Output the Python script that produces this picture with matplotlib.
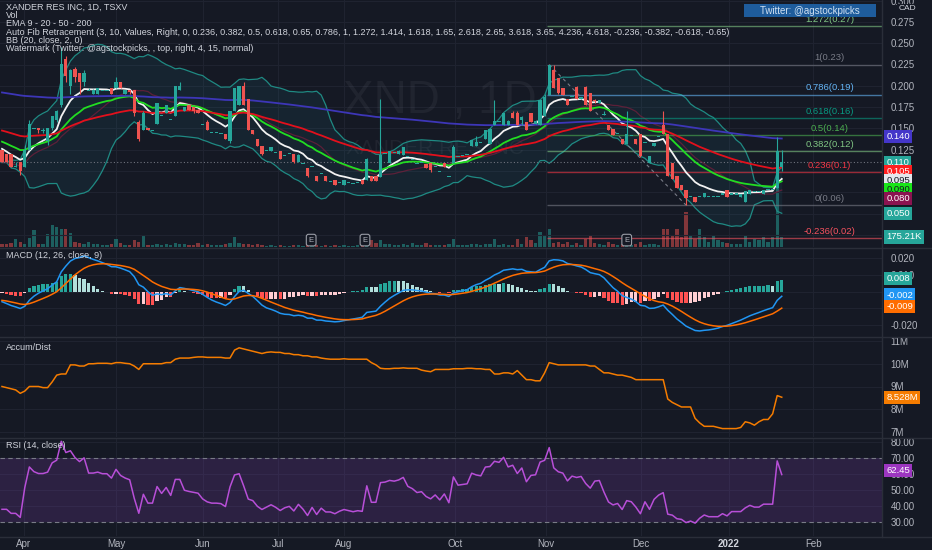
import numpy as np
import matplotlib
matplotlib.use("Agg")
import matplotlib.pyplot as plt
from matplotlib.patches import Rectangle

plt.rcParams['font.family'] = ['Liberation Sans', 'DejaVu Sans']

# ------------------------------------------------------------------ data
opens = [
    .125, .120, .120, .105, .110, .105, .125, .150, .150, .148,
    .135, .150, .160, .178, .232, .200, .220, .215, .205, .195,
    .190, .190, .195, .195, .198, .198, .205, .190, .195, .195,
    .158, .148, .150, .148, .155, .165, .168, .160, .165, .195,
    .170, .177, .175, .172, .155, .158, .145, .145, .144, .144,
    .135, .170, .178, .200, .185, .148, .138, .129, .124, .124,
    .122, .123, .118, .120, .120, .110, .109, .103, .105, .094,
    .097, .094, .088, .089, .087, .084, .087, .085, .086, .090,
    .090, .094, .094, .093, .120, .109, .122, .120, .119, .117,
    .114, .109, .110, .108, .109, .105, .099, .109, .094, .109,
    .117, .118, .119, .129, .129, .133, .138, .132, .154, .158,
    .154, .154, .168, .168, .160, .157, .168, .155, .154, .164,
    .189, .219, .209, .197, .185, .187, .199, .185, .199, .191,
    .183, .180, .166, .154, .149, .144, .138, .132, .142, .138,
    .144, .134, .109, .129, .140, .154, .144, .109, .094, .084,
    .078, .070, .069, .070, .070, .070, .070, .070, .073, .078,
    .073, .073, .069, .064, .073, .076, .076, .073, .078, .078,
    .080, .105]
highs = [
    .125, .120, .120, .110, .110, .130, .160, .150, .150, .150,
    .150, .165, .172, .245, .235, .220, .222, .215, .218, .197,
    .196, .198, .195, .195, .198, .210, .205, .195, .195, .195,
    .160, .170, .150, .148, .180, .165, .178, .160, .200, .205,
    .175, .177, .175, .173, .155, .160, .145, .145, .144, .144,
    .170, .197, .200, .205, .185, .148, .138, .129, .124, .128,
    .122, .123, .118, .120, .120, .120, .109, .103, .105, .094,
    .097, .094, .088, .089, .087, .090, .087, .085, .086, .090,
    .115, .094, .094, .185, .120, .123, .122, .125, .128, .117,
    .114, .109, .110, .108, .109, .105, .099, .109, .094, .130,
    .117, .118, .119, .136, .141, .133, .148, .150, .183, .158,
    .168, .160, .170, .170, .164, .157, .168, .160, .183, .190,
    .225, .225, .209, .197, .185, .187, .200, .187, .200, .191,
    .185, .183, .170, .154, .149, .144, .138, .170, .142, .138,
    .144, .134, .118, .133, .140, .170, .144, .109, .094, .084,
    .078, .070, .069, .070, .074, .070, .070, .070, .073, .078,
    .073, .073, .073, .076, .078, .076, .076, .078, .078, .078,
    .140, .125]
lows = [
    .110, .110, .105, .105, .095, .105, .125, .150, .145, .145,
    .130, .148, .158, .175, .205, .190, .205, .190, .200, .195,
    .190, .190, .195, .195, .190, .198, .198, .190, .190, .165,
    .135, .148, .148, .148, .155, .165, .168, .160, .165, .195,
    .170, .172, .168, .168, .155, .148, .145, .145, .144, .138,
    .133, .170, .177, .177, .148, .144, .129, .119, .124, .124,
    .122, .114, .118, .120, .109, .110, .109, .093, .105, .088,
    .097, .088, .088, .084, .087, .084, .087, .085, .086, .085,
    .090, .088, .088, .093, .120, .109, .122, .120, .119, .117,
    .114, .109, .110, .104, .099, .105, .099, .105, .094, .109,
    .117, .118, .119, .129, .129, .133, .138, .132, .154, .158,
    .154, .154, .162, .154, .154, .148, .158, .155, .154, .164,
    .189, .197, .190, .189, .177, .187, .185, .185, .177, .170,
    .180, .180, .166, .148, .142, .144, .132, .132, .142, .132,
    .117, .134, .109, .129, .140, .144, .094, .091, .080, .078,
    .060, .070, .064, .070, .070, .070, .070, .070, .073, .069,
    .073, .073, .069, .064, .073, .076, .076, .073, .078, .078,
    .080, .100]
closes = [
    .110, .110, .105, .105, .100, .125, .155, .150, .148, .148,
    .150, .165, .170, .225, .212, .218, .210, .205, .215, .195,
    .195, .197, .195, .195, .190, .205, .198, .195, .193, .168,
    .138, .168, .148, .148, .180, .165, .178, .160, .200, .200,
    .175, .172, .170, .168, .155, .148, .145, .145, .144, .138,
    .170, .197, .200, .178, .148, .144, .129, .120, .124, .128,
    .122, .114, .118, .120, .110, .119, .109, .094, .105, .088,
    .097, .088, .088, .084, .087, .089, .087, .085, .086, .085,
    .114, .088, .088, .119, .120, .123, .122, .124, .128, .117,
    .114, .109, .110, .104, .101, .105, .099, .105, .094, .128,
    .117, .118, .119, .136, .134, .133, .148, .149, .159, .158,
    .168, .159, .162, .154, .163, .148, .158, .159, .183, .187,
    .224, .197, .191, .189, .177, .187, .185, .187, .177, .170,
    .182, .183, .166, .148, .142, .144, .132, .144, .142, .132,
    .118, .134, .118, .133, .140, .144, .094, .091, .080, .078,
    .068, .070, .064, .070, .074, .070, .070, .070, .073, .069,
    .073, .073, .073, .076, .078, .076, .076, .078, .078, .078,
    .123, .110]
volume_k = [
    52, 52, 70, 140, 88, 52, 158, 298, 52, 52,
    228, 385, 350, 315, 315, 245, 88, 70, 52, 88,
    52, 52, 35, 35, 52, 140, 70, 35, 35, 122,
    88, 210, 35, 35, 52, 35, 52, 35, 70, 52,
    52, 35, 35, 70, 35, 52, 35, 35, 35, 52,
    70, 175, 70, 52, 52, 35, 52, 35, 18, 35,
    18, 35, 18, 18, 35, 35, 18, 35, 18, 35,
    18, 35, 18, 35, 18, 35, 18, 18, 35, 52,
    70, 122, 70, 122, 52, 52, 35, 35, 52, 35,
    70, 35, 35, 70, 35, 35, 35, 35, 52, 140,
    35, 35, 35, 52, 52, 35, 52, 52, 140, 35,
    52, 35, 35, 140, 52, 175, 122, 70, 262, 210,
    315, 70, 88, 52, 88, 35, 70, 35, 140, 210,
    70, 52, 35, 88, 52, 35, 52, 52, 35, 52,
    88, 35, 52, 52, 35, 315, 315, 210, 315, 175,
    612, 210, 140, 315, 175, 88, 210, 122, 88, 70,
    52, 52, 52, 210, 88, 140, 122, 175, 88, 175,
    1590, 175.21]
accum_dist_m = [
    9.00, 8.95, 8.90, 8.85, 8.70, 8.80, 9.00, 9.00, 9.00, 8.95,
    8.95, 9.20, 9.50, 9.55, 9.55, 9.95, 9.95, 9.90, 9.90, 10.00,
    10.00, 10.02, 10.02, 10.02, 10.00, 10.05, 10.05, 10.02, 10.00, 9.90,
    9.75, 10.00, 10.00, 10.00, 10.00, 10.00, 10.05, 10.05, 10.20, 10.25,
    10.25, 10.25, 10.28, 10.30, 10.30, 10.28, 10.28, 10.28, 10.28, 10.25,
    10.25, 10.60, 10.70, 10.65, 10.60, 10.55, 10.50, 10.45, 10.50, 10.52,
    10.50, 10.50, 10.45, 10.45, 10.40, 10.40, 10.35, 10.35, 10.30, 10.30,
    10.25, 10.22, 10.20, 10.20, 10.20, 10.22, 10.20, 10.20, 10.20, 10.20,
    10.20, 10.05, 9.95, 9.80, 9.78, 9.78, 9.80, 9.80, 9.82, 9.80,
    9.80, 9.80, 9.72, 9.68, 9.65, 9.75, 9.75, 9.75, 9.75, 9.78,
    9.78, 9.78, 9.80, 9.80, 9.78, 9.78, 9.75, 9.75, 9.55, 9.55,
    9.60, 9.60, 9.55, 9.70, 9.50, 9.30, 9.30, 9.25, 9.25, 9.60,
    10.05, 10.00, 9.95, 9.95, 9.95, 9.95, 9.95, 9.95, 9.95, 9.90,
    9.90, 9.75, 9.60, 9.60, 9.55, 9.50, 9.50, 9.45, 9.40, 9.30,
    9.30, 9.30, 9.30, 9.30, 9.30, 9.30, 8.45, 8.30, 8.20, 8.10,
    8.10, 8.10, 7.60, 7.40, 7.25, 7.25, 7.25, 7.20, 7.15, 7.15,
    7.15, 7.15, 7.20, 7.45, 7.40, 7.30, 7.45, 7.55, 7.55, 7.80,
    8.60, 8.528]

month_labels = ['Apr', 'May', 'Jun', 'Jul', 'Aug', 'Oct', 'Nov', 'Dec', '2022', 'Feb']
month_bar_pos = [4.8, 25.0, 44.1, 60.5, 75.0, 99.3, 119.3, 140.1, 159.4, 177.9]
earnings_bars = [67.8, 79.6, 137.0]

fib_ratios = [1.272, 1, 0.786, 0.618, 0.5, 0.382, 0.236, 0, -0.236]
fib_names = ['1.272', '1', '0.786', '0.618', '0.5', '0.382', '0.236', '0', '-0.236']
fib_high_bar, fib_low_bar = 120, 150

ema_periods = [9, 20, 50, 200]
ema_seeds = [0.130, 0.137, 0.149, 0.193]
macd_seeds = (0.133, 0.1375, -0.005)
rsi_seeds = (0.0022, 0.0036)

price_tag_values = [0.140, 0.110, 0.105, 0.095, 0.090, 0.080, 0.050]
macd_tag_values = [0.008, -0.002, -0.009]
ad_tag_value = 8.528
rsi_tag_value = 62.45

legend_lines = [
    "XANDER RES INC, 1D, TSXV",
    "Vol",
    "EMA 9 - 20 - 50 - 200",
    "Auto Fib Retracement (3, 10, Values, Right, 0, 0.236, 0.382, 0.5, 0.618, 0.65, 0.786, 1, 1.272, 1.414, 1.618, 1.65, 2.618, 2.65, 3.618, 3.65, 4.236, 4.618, -0.236, -0.382, -0.618, -0.65)",
    "BB (20, close, 2, 0)",
    "Watermark (Twitter: @agstockpicks, , top, right, 4, 15, normal)",
]

# ------------------------------------------------------------------ indicators
o = np.array(opens); h = np.array(highs); l = np.array(lows); c = np.array(closes)
N = len(c)
x = np.arange(N)


def ema(vals, n, seed):
    k = 2.0 / (n + 1)
    e = seed
    out = []
    for v in vals:
        e = e + k * (v - e)
        out.append(e)
    return np.array(out)


emas = [ema(c, n, s) for n, s in zip(ema_periods, ema_seeds)]
basis = np.array([c[max(0, i - 19):i + 1].mean() for i in range(N)])
sd = np.array([c[max(0, i - 19):i + 1].std() for i in range(N)])
bb_up = basis + 2 * sd
bb_lo = basis - 2 * sd

e12 = ema(c, 12, macd_seeds[0])
e26 = ema(c, 26, macd_seeds[1])
macd = e12 - e26
signal = ema(macd, 9, macd_seeds[2])
hist = macd - signal

ag, al = rsi_seeds
rsi = []
for i in range(N):
    if i > 0:
        d = c[i] - c[i - 1]
        ag = (ag * 13 + max(d, 0)) / 14
        al = (al * 13 + max(-d, 0)) / 14
    rsi.append(100 - 100 / (1 + ag / al) if al > 0 else 100.0)
rsi = np.array(rsi)

# ------------------------------------------------------------------ style
BG = '#151924'
GRID = '#1f2330'
SEP = '#2a2e39'
TXT = '#b2b5be'
UP = '#26a69a'
DN = '#ef5350'

W, H = 932.0, 550.0
AXR = 882.0


def rect(y0, y1):
    return [0, 1 - y1 / H, AXR / W, (y1 - y0) / H]


fig = plt.figure(figsize=(9.32, 5.5), dpi=100, facecolor=BG)
ax_vol = fig.add_axes(rect(0, 247))
ax = fig.add_axes(rect(0, 247), sharex=ax_vol)
ax_macd = fig.add_axes(rect(249, 336), sharex=ax_vol)
ax_ad = fig.add_axes(rect(338, 437), sharex=ax_vol)
ax_rsi = fig.add_axes(rect(439, 536), sharex=ax_vol)

XMIN, XMAX = -2.0 / 4.56, (AXR - 2) / 4.56
for a in (ax_vol, ax, ax_macd, ax_ad, ax_rsi):
    a.set_facecolor(BG)
    for s in a.spines.values():
        s.set_visible(False)
    a.yaxis.tick_right()
    a.tick_params(axis='y', length=0, labelsize=7, labelcolor=TXT, pad=6)
    a.tick_params(axis='x', length=0, labelsize=7, labelcolor=TXT, pad=2.5)
    a.set_xlim(XMIN, XMAX)
ax.patch.set_visible(False)
for a in (ax_vol, ax, ax_macd, ax_ad):
    a.tick_params(axis='x', labelbottom=False)
ax_vol.set_yticks([])

for a in (ax_vol, ax_macd, ax_ad, ax_rsi):
    for p in month_bar_pos:
        a.axvline(p, color=GRID, lw=0.8, zorder=0)


def tick_text(v, fmt, hidden):
    return '' if any(abs(v - hv) < 1e-9 for hv in hidden) else fmt.format(v)


# ------------------------------------------------------------------ price pane
PMIN, PMAX = 0.1 - 76 / 852.0, 0.1 + 171 / 852.0
ax.set_ylim(PMIN, PMAX)
pt = np.arange(0.025, 0.3001, 0.025)
ax.set_yticks(pt)
ax.set_yticklabels([tick_text(v, "{:.3f}", [0.1, 0.075, 0.05]) for v in pt])
for v in pt:
    ax.axhline(v, color=GRID, lw=0.8, zorder=0)

VOL_TOP = 247 * 17.5
ax_vol.set_ylim(0, VOL_TOP)
vcol = [UP if cc >= oo else DN for oo, cc in zip(o, c)]
ax_vol.bar(x, volume_k, width=0.72, color=vcol, alpha=0.5, linewidth=0, zorder=2)

# Bollinger
ax.fill_between(x, bb_lo, bb_up, color='#2596b0', alpha=0.09, linewidth=0, zorder=1)
ax.plot(x, bb_up, color='#1f8a83', lw=0.9, zorder=2)
ax.plot(x, bb_lo, color='#1f8a83', lw=0.9, zorder=2)
ax.plot(x, basis, color='#7a1e3c', lw=0.9, alpha=0.7, zorder=2)

# fib
fhi = h[fib_high_bar]
flo = l[fib_low_bar]
fib_colors = ['#81c784', '#787b86', '#64b5f6', '#089981', '#4caf50', '#81c784', '#f23645', '#787b86', '#f7525f']
for r, nm, col in zip(fib_ratios, fib_names, fib_colors):
    lev = flo + (fhi - flo) * r
    ax.hlines(lev, fib_high_bar - 0.5, XMAX, color=col, lw=1.0, alpha=0.6, zorder=3)
    s = f"{lev:.2f}"
    if s.endswith('0'):
        s = s[:-1]
    ax.text(181.5, lev + 0.0025, f"{nm}({s})", color=col, fontsize=6.8, ha='center', va='bottom', zorder=8)
ax.plot([fib_high_bar, fib_low_bar], [fhi, flo], color='#787b86', lw=0.8, ls=(0, (3, 3)), zorder=3)

ax.axhline(c[-1], color='#6f737e', lw=0.8, ls=(0, (1, 2)), zorder=3)

ema_colors = ['#f2f2f2', '#22dd22', '#e3101c', '#3d36b8']
for e, col in zip(emas, ema_colors):
    ax.plot(x, e, color=col, lw=1.3, zorder=6)

ccol = np.where(c >= o, UP, DN)
ax.vlines(x, l, h, colors=ccol, lw=0.8, zorder=7)
bb = np.minimum(o, c)
bh = np.abs(c - o)
flat = bh < 0.0012
bb = np.where(flat, (o + c) / 2 - 0.0006, bb)
bh = np.where(flat, 0.0012, bh)
ax.bar(x, bh, bottom=bb, width=0.72, color=ccol, linewidth=0, zorder=8)

ax.text(0.499, 0.59, "XND , 1D", transform=ax.transAxes, fontsize=33, color='#9598a1',
        alpha=0.09, ha='center', va='center', zorder=1)
ax.text(0.493, 0.40, "XANDER RES INC", transform=ax.transAxes, fontsize=15, color='#9598a1',
        alpha=0.09, ha='center', va='center', zorder=1)

for p in earnings_bars:
    ax.annotate('E', xy=(p, 0.028), xycoords=('data', 'axes fraction'), ha='center', va='center',
                fontsize=5.5, color='#b2b5be', zorder=9,
                bbox=dict(boxstyle='round,pad=0.3', fc=BG, ec='#9a9da6', lw=0.8))

for k, t in enumerate(legend_lines):
    fig.text(6 / W, 1 - (7.5 + 8.2 * k) / H, t, fontsize=6.5, color='#d1d4dc', ha='left', va='center')


def tag(a, yv, text, fc, tc='white', coords='data'):
    a.annotate(text, xy=(1, yv), xycoords=('axes fraction', coords), xytext=(3.2, 0),
               textcoords='offset points', ha='left', va='center', fontsize=6.8, color=tc,
               annotation_clip=False, zorder=20,
               bbox=dict(boxstyle='square,pad=0.22', fc=fc, ec='none'))


tag_fc = ['#4436c9', '#26a69a', '#ff1f1f', '#e3e6ec', '#19e619', '#8b1350', '#26a69a']
tag_tc = ['white', 'white', 'white', '#131722', '#131722', 'white', 'white']
prev = None
step = 9.0 / 852.0
for v, fc, tc in zip(price_tag_values, tag_fc, tag_tc):
    pos = v
    if prev is not None and pos > prev - step:
        pos = prev - step
    prev = pos
    tag(ax, pos, f"{v:.3f}", fc, tc)
tag(ax, volume_k[-1] / VOL_TOP, f"{volume_k[-1]:.2f}K", UP, coords='axes fraction')

# ------------------------------------------------------------------ MACD
ax_macd.set_ylim(-44.3 / 1667, 42.7 / 1667)
mt = [-0.02, -0.01, 0.0, 0.01, 0.02]
ax_macd.set_yticks(mt)
ax_macd.set_yticklabels([tick_text(v, "{:.3f}", [0.0, -0.01]) for v in mt])
for v in mt:
    ax_macd.axhline(v, color=GRID, lw=0.8, zorder=0)
hcol = []
for i in range(N):
    pv = hist[i - 1] if i > 0 else hist[i]
    if hist[i] >= 0:
        hcol.append('#26a69a' if hist[i] > pv else '#b2dfdb')
    else:
        hcol.append('#ff5252' if hist[i] < pv else '#ffcdd2')
ax_macd.bar(x, hist, width=0.72, color=hcol, linewidth=0, zorder=2)
ax_macd.plot(x, macd, color='#2196f3', lw=1.1, zorder=3)
ax_macd.plot(x, signal, color='#ff6d00', lw=1.1, zorder=3)
for v, fc in zip(macd_tag_values, ['#26a69a', '#2196f3', '#ff6d00']):
    tag(ax_macd, v, f"{v:.3f}", fc)
ax_macd.text(6 / AXR, 0.92, "MACD (12, 26, close, 9)", transform=ax_macd.transAxes,
             fontsize=6.5, color='#d1d4dc', ha='left', va='center')

# ------------------------------------------------------------------ Accum/Dist
ax_ad.set_ylim(7 - 5 / 22.75, 11 + 3 / 22.75)
at = [7, 8, 9, 10, 11]
ax_ad.set_yticks(at)
ax_ad.set_yticklabels([f"{v}M" for v in at])
for v in at:
    ax_ad.axhline(v, color=GRID, lw=0.8, zorder=0)
ax_ad.plot(x, accum_dist_m, color='#f57c00', lw=1.1, zorder=3)
tag(ax_ad, ad_tag_value, f"{ad_tag_value:.3f}M", '#f57c00')
ax_ad.text(6 / AXR, 0.9, "Accum/Dist", transform=ax_ad.transAxes,
           fontsize=6.5, color='#d1d4dc', ha='left', va='center')

# ------------------------------------------------------------------ RSI
ax_rsi.set_ylim(30 - 14 / 1.6, 80 + 3 / 1.6)
rt = [30, 40, 50, 60, 70, 80]
ax_rsi.set_yticks(rt)
ax_rsi.set_yticklabels([f"{v:.2f}" for v in rt])
for v in rt:
    ax_rsi.axhline(v, color=GRID, lw=0.8, zorder=0)
ax_rsi.axhspan(30, 70, color='#7e3fb0', alpha=0.22, linewidth=0, zorder=1)
ax_rsi.axhline(70, color='#787b86', lw=0.8, ls=(0, (4, 3)), zorder=2)
ax_rsi.axhline(30, color='#787b86', lw=0.8, ls=(0, (4, 3)), zorder=2)
ax_rsi.plot(x, rsi, color='#b84fd8', lw=1.1, zorder=3)
tag(ax_rsi, rsi_tag_value, f"{rsi_tag_value:.2f}", '#9c36c0')
ax_rsi.text(6 / AXR, 0.93, "RSI (14, close)", transform=ax_rsi.transAxes,
            fontsize=6.5, color='#d1d4dc', ha='left', va='center')

ax_rsi.set_xticks(month_bar_pos)
ax_rsi.set_xticklabels(month_labels)
for lab in ax_rsi.get_xticklabels():
    if lab.get_text() == '2022':
        lab.set_fontweight('bold')
        lab.set_color('#d1d4dc')

# ------------------------------------------------------------------ frame / extras
for yy in (248, 337, 438, 536.5):
    fig.add_artist(plt.Line2D([0, 1], [1 - yy / H, 1 - yy / H], transform=fig.transFigure,
                              color=SEP, lw=1.0))
fig.add_artist(plt.Line2D([AXR / W, AXR / W], [1 - 536.5 / H, 1], transform=fig.transFigure,
                          color=SEP, lw=1.0))

fig.patches.append(Rectangle((744 / W, 1 - 17 / H), 132 / W, 13 / H, transform=fig.transFigure,
                             fc='#1e5c9c', ec='none', zorder=30))
fig.text(810 / W, 1 - 10.5 / H, "Twitter: @agstockpicks", fontsize=7, color='#cfe0f2',
         ha='center', va='center', zorder=31)
fig.text(907 / W, 1 - 8.5 / H, "CAD", fontsize=6, color='#d1d4dc', ha='center', va='center',
         bbox=dict(boxstyle='square,pad=0.15', fc=BG, ec='none'), zorder=31)

fig.savefig("out.png", dpi=100, facecolor=BG)
